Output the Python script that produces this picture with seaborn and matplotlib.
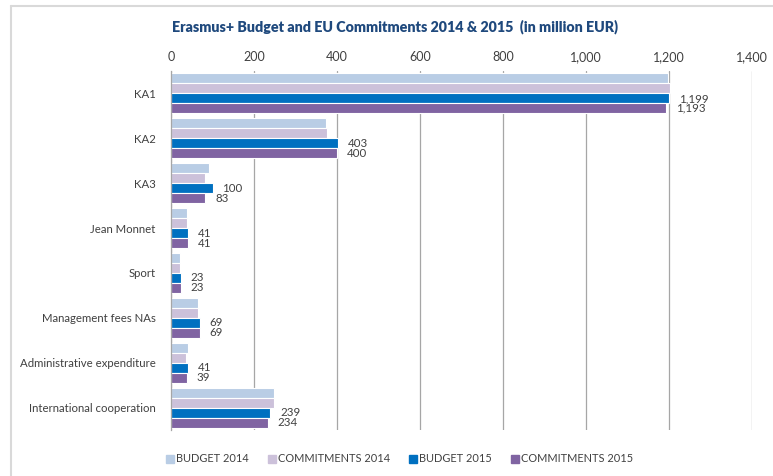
import matplotlib
matplotlib.use("Agg")
import matplotlib.pyplot as plt
import seaborn as sns
import pandas as pd
from matplotlib.lines import Line2D
from matplotlib.ticker import FuncFormatter

categories = ["KA1", "KA2", "KA3", "Jean Monnet", "Sport",
              "Management fees NAs", "Administrative expenditure",
              "International cooperation"]
series = ["BUDGET 2014", "COMMITMENTS 2014", "BUDGET 2015", "COMMITMENTS 2015"]
budget_2014 = [1198, 373, 92, 39, 22, 64, 40, 247]
commitments_2014 = [1202, 376, 82, 39, 22, 64, 37, 247]
budget_2015 = [1199, 403, 100, 41, 23, 69, 41, 239]
commitments_2015 = [1193, 400, 83, 41, 23, 69, 39, 234]
colors = ["#b9cde5", "#ccc1da", "#0070c0", "#8064a2"]
x_ticks = [0, 200, 400, 600, 800, 1000, 1200, 1400]
title = "Erasmus+ Budget and EU Commitments 2014 & 2015  (in million EUR)"

rows = []
for s, vals in zip(series, [budget_2014, commitments_2014, budget_2015, commitments_2015]):
    for c, v in zip(categories, vals):
        rows.append({"category": c, "series": s, "value": v})
df = pd.DataFrame(rows)

sns.set_style("white")
plt.rcParams["font.family"] = ["Lato", "DejaVu Sans"]
text_color = "#404040"

fig = plt.figure(figsize=(7.73, 4.76), dpi=100)
ax = fig.add_axes([171/773, 1 - 430/476, (752.3 - 171)/773, (430 - 71)/476])

sns.barplot(data=df, y="category", x="value", hue="series", order=categories,
            hue_order=series, palette=colors, orient="h", width=0.89,
            edgecolor="white", linewidth=0.8, saturation=1, ax=ax, legend=False)

ax.set_xlim(0, 1400)
ax.set_ylim(7.5, -0.5)
ax.set_xticks(x_ticks)
ax.xaxis.set_major_formatter(FuncFormatter(lambda v, p: f"{v:,.0f}"))
ax.xaxis.tick_top()
ax.tick_params(axis="x", length=0, pad=6, labelsize=9, labelcolor=text_color)
ax.tick_params(axis="y", length=0, pad=11, labelsize=8.2, labelcolor=text_color)
ax.set_xlabel("")
ax.set_ylabel("")
ax.grid(axis="x", color="#a6a6a6", linewidth=0.9)
ax.set_axisbelow(True)
for side in ["top", "right", "bottom"]:
    ax.spines[side].set_visible(False)
ax.spines["left"].set_color("#a6a6a6")
ax.spines["left"].set_linewidth(0.9)

for cont in ax.containers[2:4]:
    ax.bar_label(cont, labels=[f"{b.get_width():,.0f}" for b in cont],
                 padding=7, fontsize=8.3, color=text_color)

fig.text(172/773, 1 - 27/476, title, fontsize=10.3, fontweight="heavy",
         color="#1f497d", ha="left", va="center")

handles = [Line2D([], [], marker="s", linestyle="", markersize=6,
                  markerfacecolor=c, markeredgecolor=c) for c in colors]
fig.legend(handles, series, loc="center", bbox_to_anchor=(400/773, 1 - 459/476),
           ncol=4, frameon=False, fontsize=7.9, handlelength=0.6,
           handletextpad=0.3, columnspacing=1.75, labelcolor=text_color)

# light frame
fig.add_artist(Line2D([11/773, 1], [1 - 6/476, 1 - 6/476], transform=fig.transFigure,
                      color="#d9d9d9", linewidth=1.5))
fig.add_artist(Line2D([11/773, 11/773], [0, 1 - 6/476], transform=fig.transFigure,
                      color="#d9d9d9", linewidth=1.5))

fig.savefig("out.png", dpi=100)
